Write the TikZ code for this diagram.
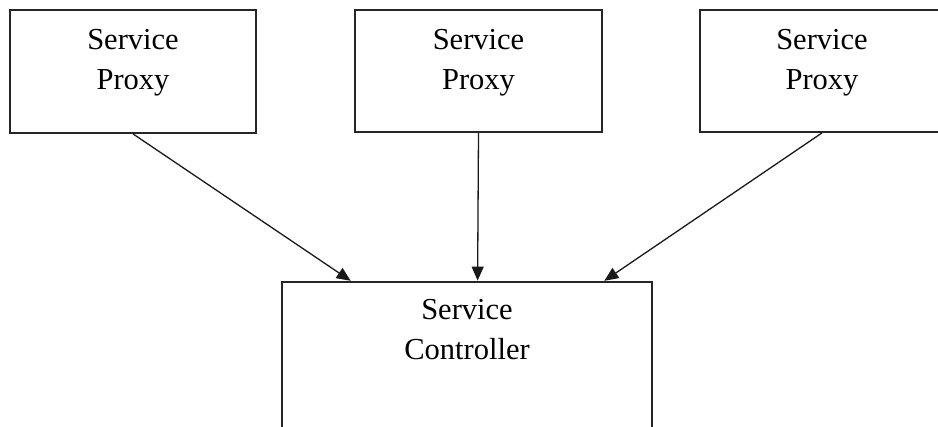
\documentclass[tikz,border=0pt]{standalone}
\usepackage{fontspec}
\setmainfont{Liberation Serif}
\usetikzlibrary{arrows.meta}
\begin{document}
\begin{tikzpicture}[x=1pt,y=-1pt,
  box/.style={draw=black!85, line width=1.8pt, fill=white, inner sep=0pt},
  lbl/.style={font=\fontsize{30.5}{40}\selectfont, align=center, anchor=base, inner sep=0pt},
  link/.style={line width=1.3pt, black!90, -{Triangle[length=14pt,width=12pt]}, shorten >=0.5pt}]
  \useasboundingbox (0,0) rectangle (938,427);

  % proxies
  \node[box, minimum width=246pt, minimum height=123pt] (p1) at (133,71.5) {};
  \node[box, minimum width=247pt, minimum height=122pt] (p2) at (478.5,71) {};
  \node[box, minimum width=244pt, minimum height=122pt] (p3) at (822,71) {};
  % the base anchor of a two-line label sits on its last line
  \node[lbl] (t1) at ([yshift=-80pt]p1.north) {Service\\Proxy};
  \node[lbl] (t2) at ([yshift=-80pt]p2.north) {Service\\Proxy};
  \node[lbl] (t3) at ([yshift=-80pt]p3.north) {Service\\Proxy};

  % controller
  \node[box, minimum width=370pt, minimum height=170pt] (c) at (467,367) {};
  \node[lbl] (tc) at ([yshift=-78pt]c.north) {Service\\Controller};

  % connectors
  \draw[link] (p1.south) -- ([xshift=70pt]c.north west);
  \draw[link] (p2.south) -- ([xshift=196.5pt]c.north west);
  \draw[link] (p3.south) -- ([xshift=-49pt]c.north east);
\end{tikzpicture}
\end{document}
